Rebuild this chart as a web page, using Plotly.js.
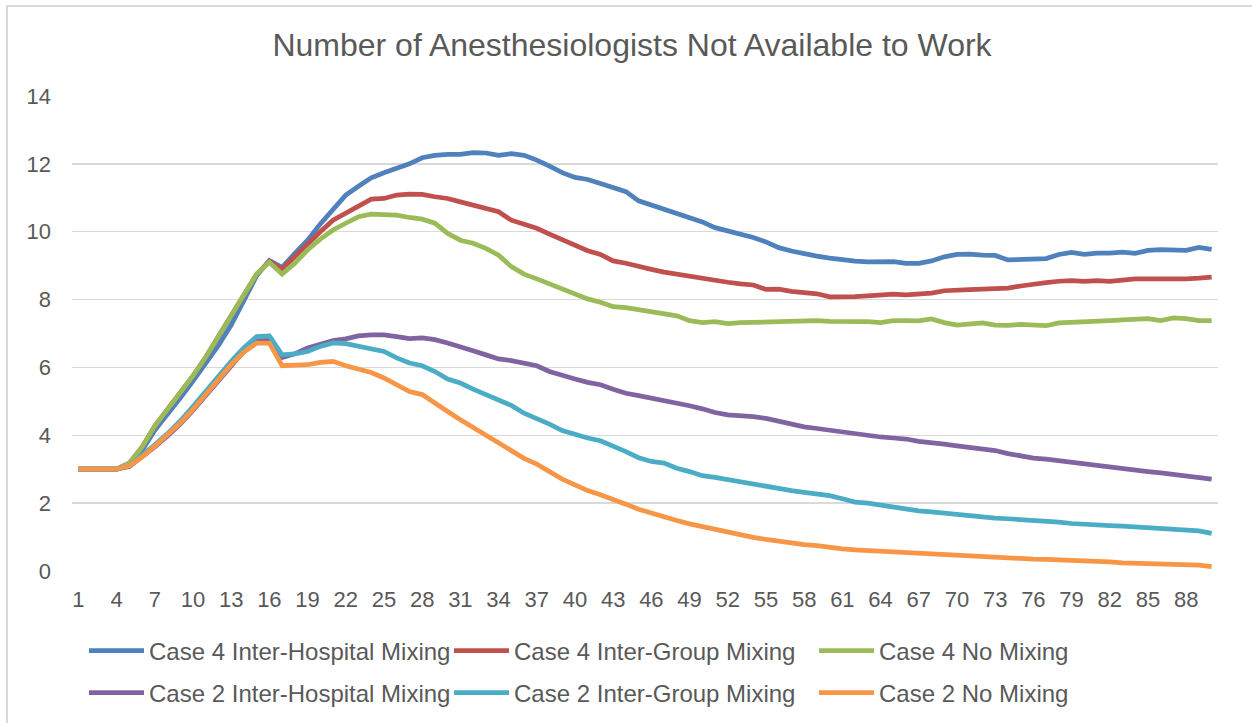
<!DOCTYPE html>
<html>
<head>
<meta charset="utf-8">
<script src="https://cdn.plot.ly/plotly-3.0.1.min.js"></script>
<style>
  html, body { margin: 0; padding: 0; background: #ffffff; overflow: hidden; }
  #wrap { position: relative; width: 1252px; height: 723px; }
  #chart { width: 1252px; height: 723px; }
  #frame { position: absolute; left: 6px; top: 5px; width: 1246px; height: 718px;
           border-left: 2px solid #d9d9d9; border-top: 2px solid #d9d9d9;
           box-sizing: border-box; pointer-events: none; }
</style>
</head>
<body>
<div id="wrap">
  <div id="chart"></div>
  <div id="frame"></div>
</div>
<script>
// Time steps (categories)
const days = [1,2,3,4,5,6,7,8,9,10,11,12,13,14,15,16,17,18,19,20,21,22,23,24,25,26,27,28,29,30,
  31,32,33,34,35,36,37,38,39,40,41,42,43,44,45,46,47,48,49,50,51,52,53,54,55,56,57,58,59,60,
  61,62,63,64,65,66,67,68,69,70,71,72,73,74,75,76,77,78,79,80,81,82,83,84,85,86,87,88,89,90];

const xTickLabels = [1,4,7,10,13,16,19,22,25,28,31,34,37,40,43,46,49,52,55,58,61,64,67,70,73,76,79,82,85,88];

const case4InterHospital = [3.0,3.0,3.0,3.0,3.14,3.55,4.15,4.6,5.1,5.6,6.1,6.65,7.25,7.95,8.7,9.15,8.95,9.36,9.75,10.23,
  10.64,11.08,11.34,11.59,11.74,11.86,12.0,12.18,12.25,12.28,12.28,12.33,12.32,12.25,12.3,12.25,12.11,11.93,11.74,11.6,
  11.54,11.42,11.31,11.18,10.91,10.79,10.67,10.56,10.44,10.29,10.12,10.03,9.95,9.83,9.70,9.53,9.43,9.34,9.28,9.22,
  9.17,9.13,9.11,9.10,9.12,9.07,9.07,9.14,9.26,9.33,9.34,9.31,9.30,9.17,9.18,9.18,9.21,9.33,9.39,9.33,
  9.37,9.37,9.40,9.36,9.45,9.47,9.45,9.45,9.54,9.48];

const case4InterGroup = [3.0,3.0,3.0,3.0,3.18,3.65,4.27,4.75,5.25,5.75,6.3,6.9,7.5,8.15,8.75,9.12,8.9,9.27,9.66,10.0,
  10.34,10.54,10.75,10.96,10.98,11.08,11.11,11.1,11.03,10.98,10.88,10.78,10.69,10.59,10.34,10.23,10.1,9.93,9.76,9.61,
  9.44,9.33,9.14,9.07,8.97,8.89,8.81,8.75,8.68,8.61,8.54,8.51,8.46,8.43,8.3,8.31,8.24,8.21,8.17,8.08,
  8.07,8.09,8.11,8.15,8.16,8.14,8.16,8.19,8.26,8.26,8.29,8.31,8.31,8.34,8.4,8.46,8.5,8.54,8.56,8.54,
  8.56,8.54,8.58,8.61,8.61,8.6,8.6,8.61,8.63,8.66];

const case4NoMixing = [3.0,3.0,3.0,3.0,3.18,3.65,4.27,4.75,5.25,5.75,6.3,6.9,7.5,8.15,8.75,9.1,8.75,9.07,9.46,9.78,
  10.05,10.25,10.44,10.52,10.52,10.49,10.42,10.37,10.25,9.95,9.75,9.66,9.51,9.31,8.97,8.75,8.61,8.46,8.29,8.14,
  8.02,7.92,7.79,7.76,7.7,7.62,7.55,7.52,7.38,7.32,7.35,7.29,7.32,7.33,7.35,7.38,7.38,7.38,7.38,7.36,
  7.36,7.36,7.35,7.32,7.38,7.38,7.37,7.43,7.32,7.25,7.29,7.31,7.25,7.24,7.27,7.25,7.23,7.31,7.32,7.34,
  7.36,7.38,7.40,7.42,7.44,7.38,7.46,7.44,7.38,7.38];

const case2InterHospital = [3.0,3.0,3.0,3.0,3.08,3.36,3.66,3.98,4.33,4.73,5.18,5.63,6.08,6.48,6.78,6.8,6.29,6.4,6.57,6.67,
  6.79,6.84,6.93,6.96,6.96,6.91,6.85,6.87,6.82,6.72,6.62,6.49,6.37,6.25,6.2,6.13,6.05,5.88,5.76,5.66,
  5.56,5.49,5.36,5.24,5.17,5.10,5.02,4.97,4.87,4.78,4.67,4.60,4.58,4.55,4.5,4.42,4.32,4.25,4.2,4.15,
  4.07,4.02,3.99,3.95,3.92,3.89,3.82,3.79,3.74,3.69,3.64,3.59,3.55,3.46,3.38,3.33,3.30,3.25,3.20,3.16,
  3.13,3.08,3.02,2.97,2.93,2.89,2.85,2.81,2.76,2.71];

const case2InterGroup = [3.0,3.0,3.0,3.0,3.1,3.4,3.72,4.05,4.42,4.85,5.3,5.74,6.18,6.58,6.91,6.93,6.37,6.4,6.47,6.62,
  6.72,6.7,6.62,6.57,6.47,6.28,6.13,6.05,5.88,5.66,5.54,5.36,5.21,5.05,4.88,4.65,4.5,4.33,4.14,4.02,
  3.92,3.84,3.69,3.52,3.34,3.23,3.18,3.03,2.93,2.81,2.76,2.69,2.64,2.57,2.49,2.42,2.37,2.32,2.28,2.22,
  2.13,2.03,2.0,1.94,1.88,1.83,1.77,1.74,1.70,1.67,1.61,1.58,1.56,1.54,1.52,1.50,1.47,1.44,1.40,1.37,
  1.35,1.34,1.32,1.30,1.28,1.27,1.25,1.23,1.18,1.11];

const case2NoMixing = [3.0,3.0,3.0,3.0,3.1,3.36,3.68,4.02,4.36,4.76,5.2,5.64,6.08,6.45,6.72,6.72,6.05,6.07,6.08,6.15,
  6.18,6.05,5.95,5.85,5.69,5.49,5.29,5.2,4.97,4.70,4.46,4.23,3.98,3.79,3.55,3.32,3.15,2.93,2.71,2.54,
  2.37,2.25,2.12,1.97,1.82,1.70,1.60,1.49,1.39,1.31,1.23,1.13,1.06,0.99,0.93,0.87,0.82,0.78,0.75,0.69,
  0.65,0.62,0.60,0.57,0.55,0.54,0.51,0.49,0.46,0.44,0.43,0.42,0.41,0.38,0.36,0.35,0.34,0.33,0.30,0.28,
  0.28,0.27,0.24,0.23,0.21,0.20,0.20,0.19,0.17,0.13];

const seriesNames = [
  "Case 4 Inter-Hospital Mixing", "Case 4 Inter-Group Mixing", "Case 4 No Mixing",
  "Case 2 Inter-Hospital Mixing", "Case 2 Inter-Group Mixing", "Case 2 No Mixing"
];
const seriesValues = [case4InterHospital, case4InterGroup, case4NoMixing,
                      case2InterHospital, case2InterGroup, case2NoMixing];
const seriesColors = ["#4f81bd", "#c0504d", "#9bbb59", "#8064a2", "#4bacc6", "#f79646"];

const FONT = '"Liberation Sans", Arial, sans-serif';
const TXT = '#595959';

const traces = seriesValues.map((vals, i) => ({
  type: 'scatter',
  mode: 'lines',
  x: days,
  y: vals,
  name: seriesNames[i],
  line: { color: seriesColors[i], width: 4.75 },
  legend: i < 3 ? 'legend' : 'legend2',
  hoverinfo: 'skip'
}));

const legendBase = {
  orientation: 'h',
  xref: 'container', yref: 'container',
  x: 84 / 1252, xanchor: 'left',
  yanchor: 'middle',
  font: { family: FONT, size: 24, color: TXT },
  entrywidth: 295, entrywidthmode: 'pixels',
  itemwidth: 55,
  bgcolor: 'rgba(0,0,0,0)',
  borderwidth: 0,
  traceorder: 'normal'
};

const layout = {
  width: 1252, height: 723,
  margin: { l: 72, r: 34, t: 96, b: 152 },
  paper_bgcolor: '#ffffff',
  plot_bgcolor: '#ffffff',
  font: { family: FONT, color: TXT },
  title: {
    text: 'Number of Anesthesiologists Not Available to Work',
    font: { family: FONT, size: 32, color: TXT },
    xref: 'container', x: 632 / 1252, xanchor: 'center',
    yref: 'container', y: 1 - 44.5 / 723, yanchor: 'middle'
  },
  xaxis: {
    type: 'linear',
    range: [0.5, 90.5],
    tickmode: 'array',
    tickvals: xTickLabels,
    ticktext: xTickLabels.map(String),
    showgrid: false, zeroline: false, showline: false,
    ticks: '',
    tickfont: { family: FONT, size: 22, color: TXT },
    ticklabelstandoff: 13,
    fixedrange: true
  },
  yaxis: {
    range: [0, 14],
    tick0: 0, dtick: 2,
    showgrid: true, gridcolor: '#d9d9d9', gridwidth: 1.3,
    zeroline: false, showline: false,
    ticks: '',
    tickfont: { family: FONT, size: 22, color: TXT },
    ticklabelstandoff: 20,
    fixedrange: true
  },
  showlegend: true,
  legend: Object.assign({}, legendBase, { y: 1 - 651 / 723 }),
  legend2: Object.assign({}, legendBase, { y: 1 - 693 / 723 }),
  hovermode: false
};

Plotly.newPlot('chart', traces, layout, { displayModeBar: false, staticPlot: true });
</script>
</body>
</html>
